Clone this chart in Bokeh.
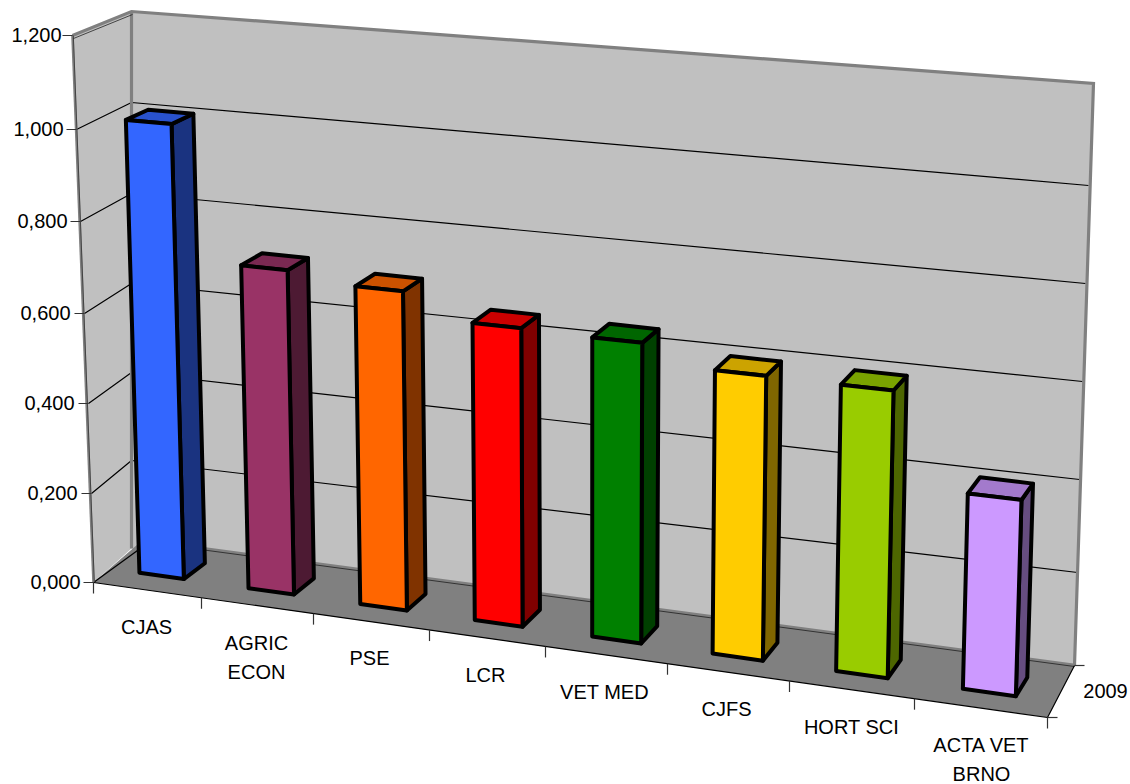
import numpy as np
from bokeh.plotting import figure
from bokeh.embed import file_html
from bokeh.resources import INLINE
from bokeh.core.properties import value

# ---- data
categories = [["CJAS"], ["AGRIC", "ECON"], ["PSE"], ["LCR"], ["VET MED"], ["CJFS"], ["HORT SCI"], ["ACTA VET", "BRNO"]]
series_2009 = [1.00, 0.711, 0.692, 0.641, 0.638, 0.598, 0.597, 0.405]
y_ticks = [0.0, 0.2, 0.4, 0.6, 0.8, 1.0, 1.2]
y_tick_labels = ["0,000", "0,200", "0,400", "0,600", "0,800", "1,000", "1,200"]
series_name = "2009"
front_colors = ["#3366FF", "#993366", "#FF6600", "#FF0000", "#008000", "#FFCC00", "#99CC00", "#CC99FF"]
side_colors = ["#1A3380", "#4D1A33", "#803300", "#800000", "#004000", "#806600", "#4D6600", "#664D80"]
top_colors = ["#2952CC", "#7A2952", "#CC5200", "#CC0000", "#006600", "#CCA300", "#7AA300", "#A37ACC"]

# ---- layout of the box in page pixels (per y tick, bottom to top)
wall_front = [(93, 582), (91, 493), (88, 403), (84, 313), (80, 221), (76, 129), (72, 35)]
wall_back = [(131, 548), (131, 460), (131, 372), (131, 283), (131, 193), (131, 102), (131, 11)]
wall_right = [(1074, 665), (1077, 572), (1079, 479), (1082, 381), (1085, 283), (1088, 185), (1093, 83)]
front_right = (1047, 717)
x_tick_x = [93, 201, 313, 429, 545, 667, 789, 914, 1047]
label_pos = [(146, 626), (256, 642), (369, 657), (485, 674), (604, 691), (726, 708), (851, 726), (981, 744)]
line_gap = 29
y_label_right = [80, 77, 74, 70, 67, 63, 61]
HW, V0, V1 = 0.205, 0.36, 0.80

# ---- camera for the bars (u along categories, v depth, h value/ymax), fitted on the floor
YMAX = 1.2
floor_marks = [[(139, 573), (183, 579), (205, 562)], [(248, 588), (293, 594), (314, 578)],
               [(361, 604), (405, 610), (425, 593)], [(474, 620), (521, 626), (539, 610)],
               [(592, 636), (641, 642), (656, 625)], [(712, 654), (762, 659), (777, 643)],
               [(836, 671), (888, 676), (902, 660)], [(963, 688), (1015, 694), (1026, 677)]]
height_marks = {0: [(126, 120), (171, 123), (193, 113), (148, 108)], 4: [(592, 337), (641, 342), (657, 329), (608, 324)],
                7: [(968, 494), (1021, 501), (1032, 483), (980, 477)]}
n = len(categories)
anchors = []
for i in range(n):
    u0, u1 = (i + .5 - HW) / n, (i + .5 + HW) / n
    f = floor_marks[i]
    anchors += [((u0, V0, 0), f[0]), ((u1, V0, 0), f[1]), ((u1, V1, 0), f[2])]
    if i in height_marks:
        h = series_2009[i] / YMAX
        t = height_marks[i]
        anchors += [((u0, V0, h), t[0]), ((u1, V0, h), t[1]), ((u1, V1, h), t[2]), ((u0, V1, h), t[3])]
A, b = [], []
for (u, v, h), (x, y) in anchors:
    A.append([u, v, h, 1, 0, 0, 0, 0, -x*u, -x*v, -x*h]); b.append(x)
    A.append([0, 0, 0, 0, u, v, h, 1, -y*u, -y*v, -y*h]); b.append(y)
m = np.linalg.lstsq(np.array(A, float), np.array(b, float), rcond=None)[0]

def proj(u, v, h):
    d = m[8]*u + m[9]*v + m[10]*h + 1
    return (m[0]*u + m[1]*v + m[2]*h + m[3]) / d, (m[4]*u + m[5]*v + m[6]*h + m[7]) / d

def poly(pts):
    P = [proj(*q) for q in pts]
    return [a for a, _ in P], [c for _, c in P]

p = figure(width=1130, height=784, x_range=(0, 1130), y_range=(784, 0), toolbar_location=None,
           output_backend="svg", min_border=0, outline_line_color=None, background_fill_color="white")
p.axis.visible = False
p.grid.visible = False

def XY(pts):
    return [q[0] for q in pts], [q[1] for q in pts]

WALL, EDGE, FLOOR = "#C0C0C0", "#808080", "#808080"
# walls
xs, ys = XY([wall_front[0], wall_front[-1], wall_back[-1], wall_right[-1], wall_right[0], wall_back[0]])
p.patch(xs, ys, fill_color=WALL, line_color=None)
# floor with its thin raised back band
xs, ys = XY([wall_front[0], front_right, wall_right[0], (1073, 663), (140, 538), (137, 544)])
p.patch(xs, ys, fill_color=FLOOR, line_color=None)
# grid lines
for k in range(1, len(y_ticks)):
    xs, ys = XY([wall_front[k], wall_back[k], wall_right[k]])
    p.line(xs, ys, line_color="black", line_width=1.2)
# floor lines
xs, ys = XY([wall_front[0], (137, 550)])
p.line(xs, ys, line_color="black", line_width=1.2)
xs, ys = XY([(140, 541), (wall_right[0][0], wall_right[0][1] + 1)])
p.line(xs, ys, line_color="#333333", line_width=1)
# wall edges
xs, ys = XY([wall_front[-1], wall_back[-1], wall_right[-1], wall_right[0]])
p.line(xs, ys, line_color=EDGE, line_width=3.2, line_join="miter")
xs, ys = XY(wall_back)
p.line(xs, ys, line_color=EDGE, line_width=3.2)
xs, ys = XY([wall_front[0], wall_front[-1]])
p.line(xs, ys, line_color=EDGE, line_width=2.6)
p.line([a + .8 for a in xs], ys, line_color="#333333", line_width=.8)
xs, ys = XY([(q[0] + 1, q[1] + 3) for q in (wall_front[-1], wall_back[-1])])
p.line(xs, ys, line_color="#222222", line_width=.8)
# base axes
xs, ys = XY([wall_front[0], front_right, wall_right[0]])
p.line(xs, ys, line_color="black", line_width=1.2)
# ticks
for q in wall_front:
    p.segment([q[0] - 10], [q[1]], [q[0]], [q[1]], line_color="#333333", line_width=1.2)
x0, y0 = wall_front[0]
for x in x_tick_x:
    y = y0 + (front_right[1] - y0) * (x - x0) / (front_right[0] - x0)
    p.segment([x], [y], [x], [y + 11], line_color="#333333", line_width=1.2)
for q in (wall_right[0], front_right):
    p.segment([q[0]], [q[1]], [q[0] + 10], [q[1]], line_color="#333333", line_width=1.2)

# bars
for i, val in enumerate(series_2009):
    u0 = (i + .5 - HW) / n
    u1 = (i + .5 + HW) / n
    h = val / YMAX
    for face, col in (([(u1, V0, 0), (u1, V1, 0), (u1, V1, h), (u1, V0, h)], side_colors[i]),
                      ([(u0, V0, h), (u1, V0, h), (u1, V1, h), (u0, V1, h)], top_colors[i]),
                      ([(u0, V0, 0), (u1, V0, 0), (u1, V0, h), (u0, V0, h)], front_colors[i])):
        bx, by = poly(face)
        p.patch(bx, by, fill_color=col, line_color="black", line_width=4, line_join="round")

# texts
FONT = value("Liberation Sans")
tx = y_label_right
ty = [q[1] - 1 for q in wall_front]
p.text(tx, ty, text=y_tick_labels, text_font=FONT, text_font_size="20px", text_color="black",
       text_align="right", text_baseline="middle")
lx, ly, lt = [], [], []
for (x, y), rows in zip(label_pos, categories):
    for j, r in enumerate(rows):
        lx.append(x)
        ly.append(y + j * line_gap)
        lt.append(r)
p.text(lx, ly, text=lt, text_font=FONT, text_font_size="20px", text_color="black",
       text_align="center", text_baseline="middle")
p.text([1105], [690], text=[series_name], text_font=FONT, text_font_size="20px", text_color="black",
       text_align="center", text_baseline="middle")

open("out.html", "w").write(file_html(p, INLINE))
